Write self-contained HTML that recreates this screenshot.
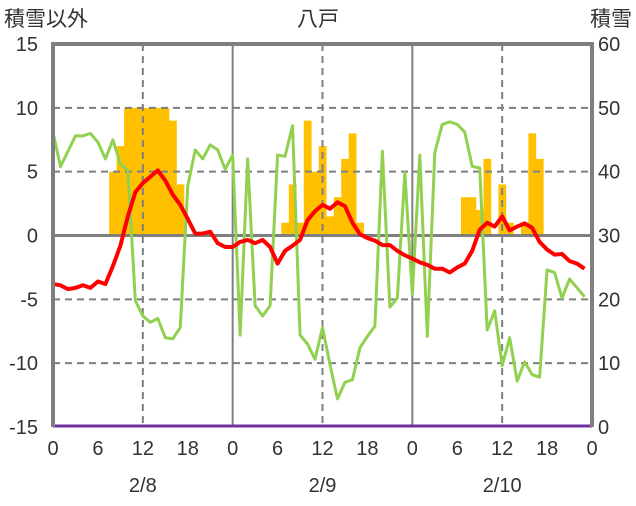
<!DOCTYPE html>
<html><head><meta charset="utf-8"><style>
body{margin:0;background:#fff;}
svg text{font-family:"Liberation Sans","Noto Sans CJK JP",sans-serif;fill:#333;}
</style></head><body>
<svg id="c" width="636" height="501" xmlns="http://www.w3.org/2000/svg"></svg>
<script>
const hours=[];for(let i=0;i<72;i++)hours.push(i);
const snow=[0,0,0,0,0,0,0,0,40,44,50,50,50,50,50,50,48,38,0,0,0,0,0,0,
0,0,0,0,0,0,0,32,38,32,48,40,44,33,36,42,46,32,0,0,0,0,0,0,
0,0,0,0,0,0,0,36,36,34,42,0,38,32,0,32,46,42,0,0,0,0,0,0];
const temp=[-3.8,-3.9,-4.2,-4.1,-3.9,-4.1,-3.6,-3.8,-2.4,-0.8,1.5,3.4,4.1,4.6,5.1,4.3,3.2,2.4,1.3,0.15,0.15,0.3,-0.6,-0.9,
-0.9,-0.5,-0.35,-0.6,-0.35,-0.9,-2.2,-1.2,-0.8,-0.35,1.2,1.9,2.4,2.1,2.6,2.3,1.0,0.1,-0.2,-0.4,-0.75,-0.75,-1.2,-1.55,
-1.8,-2.1,-2.3,-2.6,-2.6,-2.9,-2.5,-2.2,-1.2,0.45,1.0,0.7,1.5,0.4,0.7,0.95,0.6,-0.5,-1.1,-1.5,-1.45,-2.0,-2.2,-2.6];
const other=[8.1,5.4,6.6,7.8,7.8,8.0,7.3,6.0,7.5,5.6,5.1,-5.1,-6.3,-6.8,-6.5,-8.0,-8.1,-7.2,3.9,6.7,6.0,7.1,6.7,5.2,
6.3,-7.8,6.0,-5.5,-6.3,-5.5,6.3,6.2,8.6,-7.8,-8.5,-9.7,-7.2,-10.1,-12.8,-11.5,-11.3,-8.8,-7.9,-7.1,6.6,-5.6,-4.9,4.9,
-4.6,6.3,-7.9,6.5,8.7,8.9,8.7,8.1,5.4,5.3,-7.4,-5.9,-10.2,-8.0,-11.4,-9.9,-10.9,-11.1,-2.7,-2.9,-4.9,-3.4,-4.1,-4.8];
const leftTicks=[15,10,5,0,-5,-10,-15];
const rightTicks=[60,50,40,30,20,10,0];
const xTickLabels=["0","6","12","18","0","6","12","18","0","6","12","18","0"];
const dates=["2/8","2/9","2/10"];
const L=53,R=592,T=44,B=427;
const X=h=>L+h*(R-L)/72;
const YL=v=>B-(v+15)*(B-T)/30;
const YR=v=>B-v*(B-T)/60;
const svg=document.getElementById('c');
const NS='http://www.w3.org/2000/svg';
function mk(tag,attrs,parent){const e=document.createElementNS(NS,tag);for(const k in attrs)e.setAttribute(k,attrs[k]);(parent||svg).appendChild(e);return e;}
// bars (base at zero line, which is 30 on right axis)
const base=YR(30);
snow.forEach((v,i)=>{if(v<=30)return;const w=(R-L)/72;
const r=mk('rect',{x:X(hours[i])-w/2,y:YR(v),width:w+0.3,height:base-YR(v),fill:'#FFC000'});

});
// grid
[10,5,-5,-10].forEach(v=>{const g=mk('line',{x1:L,x2:R,y1:YL(v),y2:YL(v),stroke:'#7f7f7f','stroke-width':2,'stroke-dasharray':'7,5'});

});
[12,36,60].forEach(h=>{const g=mk('line',{x1:X(h),x2:X(h),y1:T,y2:B,stroke:'#7f7f7f','stroke-width':2,'stroke-dasharray':'7,5'});

});
[24,48].forEach(h=>{const g=mk('line',{x1:X(h),x2:X(h),y1:T,y2:B,stroke:'#7f7f7f','stroke-width':2});

});
const z=mk('line',{x1:L,x2:R,y1:YL(0),y2:YL(0),stroke:'#7f7f7f','stroke-width':3});


function line(arr,color,w,name){const p=mk('polyline',{points:arr.map((v,i)=>X(hours[i])+','+YL(v)).join(' '),fill:'none',stroke:color,'stroke-width':w,'stroke-linejoin':'round'});

}
line(other,'#92D050',3,'other-series-line');
line(temp,'#FF0000',4,'temperature-line');
const pu=mk('line',{x1:L,x2:R,y1:B-1,y2:B-1,stroke:'#7030A0','stroke-width':3});


// frame
const f=mk('path',{d:`M${L},${B} L${L},${T} L${R},${T} L${R},${B}`,fill:'none',stroke:'#7f7f7f','stroke-width':4});


// ticks
leftTicks.forEach(v=>{const t=mk('text',{x:38,y:YL(v)+7,'text-anchor':'end','font-size':20});t.textContent=v;

});
rightTicks.forEach(v=>{const t=mk('text',{x:598,y:YR(v)+7,'font-size':20});t.textContent=v;

});
xTickLabels.forEach((s,i)=>{const t=mk('text',{x:X(i*6),y:455,'text-anchor':'middle','font-size':20});t.textContent=s;

});
dates.forEach((s,i)=>{const t=mk('text',{x:X(12+24*i),y:492,'text-anchor':'middle','font-size':20});t.textContent=s;

});
[[4,26,'start','積雪以外','left-axis-title'],[318,26,'middle','八戸','chart-title'],[632,26,'end','積雪','right-axis-title']].forEach(a=>{
const t=mk('text',{x:a[0],y:a[1],'text-anchor':a[2],'font-size':21});t.textContent=a[3];

});
</script>
</body></html>
